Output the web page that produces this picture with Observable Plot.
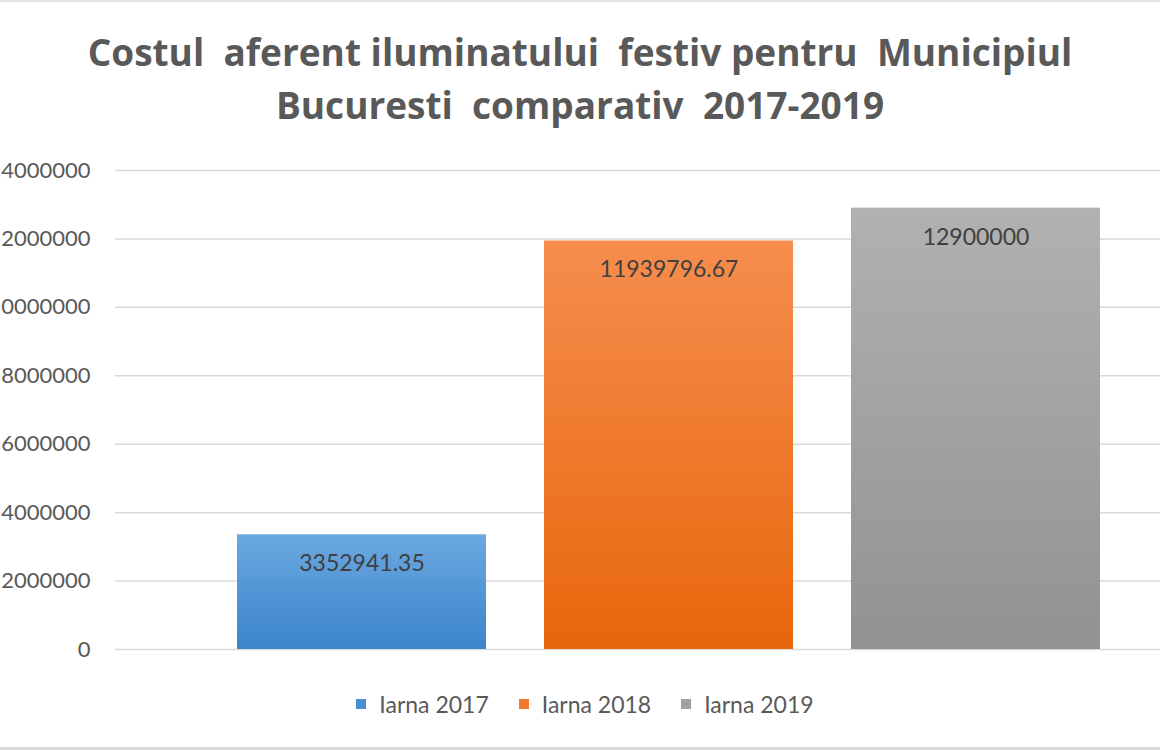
<!DOCTYPE html>
<html>
<head>
<meta charset="utf-8">
<script src="https://cdn.jsdelivr.net/npm/d3@7"></script>
<script src="https://cdn.jsdelivr.net/npm/@observablehq/plot@0.6"></script>
<style>
  html, body { margin: 0; padding: 0; background: #fff; }
  #frame { position: relative; width: 1160px; height: 750px; overflow: hidden; box-sizing: border-box;
           border-top: 2px solid #e4e4e4; border-bottom: 3px solid #dcdcdc; }
  #title { padding-top: 23px; height: 108px; text-align: center; font-family: "Open Sans", Lato, sans-serif;
           font-weight: bold; font-size: 37px; line-height: 53px; color: #595959; white-space: pre; }
  #legend { display: flex; justify-content: center; align-items: center; gap: 30px; height: 30px;
            font-family: Lato, "Open Sans", sans-serif; font-size: 23px; color: #595959; padding-left: 10px; }
  #legend .item { display: flex; align-items: center; gap: 13px; }
  #legend .sw { width: 10px; height: 10px; display: inline-block; }
  svg { display: block; }
</style>
</head>
<body>
<div id="frame">
  <div id="title">Costul  aferent iluminatului  festiv pentru  Municipiul
Bucuresti  comparativ  2017-2019</div>
  <div id="chart"></div>
  <div id="legend"></div>
</div>
<script>
const categories = ["Iarna 2017", "Iarna 2018", "Iarna 2019"];
const values = [3352941.35, 11939796.67, 12900000];
const valueLabels = ["3352941.35", "11939796.67", "12900000"];
const yTicks = [0, 2000000, 4000000, 6000000, 8000000, 10000000, 12000000, 14000000];

const gradTop = ["#6ba8e1", "#f68d4e", "#b1b1b1"];
const gradBottom = ["#3b84cb", "#e8660c", "#929292"];
const swatch = ["#4a8fd3", "#f0782a", "#a0a0a0"];

const data = categories.map((c, i) => ({cat: c, value: values[i], label: valueLabels[i]}));

const defs = () => {
  const ns = "http://www.w3.org/2000/svg";
  const d = document.createElementNS(ns, "defs");
  categories.forEach((c, i) => {
    const g = document.createElementNS(ns, "linearGradient");
    g.setAttribute("id", "grad" + i);
    g.setAttribute("x1", "0"); g.setAttribute("y1", "0");
    g.setAttribute("x2", "0"); g.setAttribute("y2", "1");
    [[0, gradTop[i]], [1, gradBottom[i]]].forEach(([o, col]) => {
      const s = document.createElementNS(ns, "stop");
      s.setAttribute("offset", o);
      s.setAttribute("stop-color", col);
      g.appendChild(s);
    });
    d.appendChild(g);
  });
  return d;
};

const chart = Plot.plot({
  width: 1160,
  height: 556,
  marginTop: 37,
  marginBottom: 40,
  marginLeft: 115,
  marginRight: 0,
  style: {fontFamily: "Lato, 'Open Sans', sans-serif", fontSize: "22px", color: "#595959", background: "transparent"},
  x: {domain: categories, range: [207, 1130], paddingInner: 0.19, paddingOuter: 0.095, axis: null},
  y: {domain: [0, 14000000], ticks: yTicks},
  color: {domain: categories, range: categories.map((c, i) => `url(#grad${i})`)},
  marks: [
    defs,
    Plot.ruleY(yTicks, {stroke: "#d9d9d9", strokeWidth: 1.5, strokeOpacity: 1}),
    Plot.axisY({ticks: yTicks, tickSize: 0, tickPadding: 25, tickFormat: d3.format("d"), fill: "#595959", fontSize: 22, label: null}),
    Plot.barY(data, {x: "cat", y: "value", fill: "cat"}),
    Plot.text(data, {x: "cat", y: "value", text: "label", dy: 29, fill: "#404040", fontSize: 23})
  ]
});
document.getElementById("chart").appendChild(chart);

const legend = document.getElementById("legend");
categories.forEach((c, i) => {
  const item = document.createElement("span");
  item.className = "item";
  const sw = document.createElement("span");
  sw.className = "sw";
  sw.style.background = swatch[i];
  const t = document.createElement("span");
  t.textContent = c;
  item.appendChild(sw); item.appendChild(t);
  legend.appendChild(item);
});
</script>
</body>
</html>
